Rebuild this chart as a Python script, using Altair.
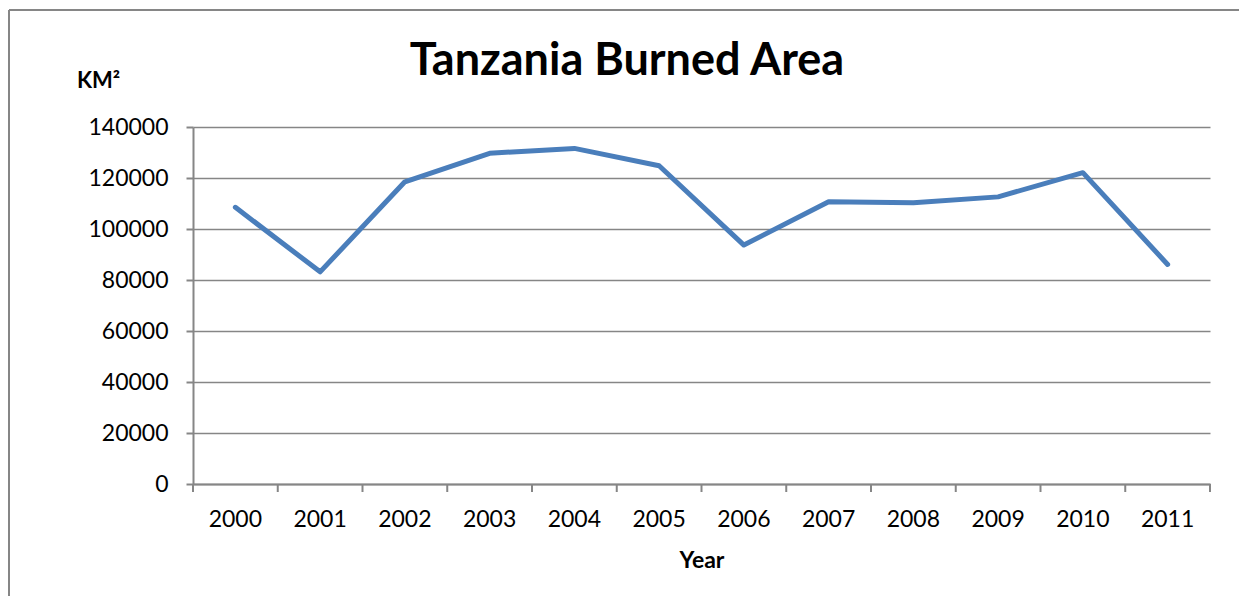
import altair as alt
import pandas as pd

years = ["2000", "2001", "2002", "2003", "2004", "2005",
         "2006", "2007", "2008", "2009", "2010", "2011"]
burned_km2 = [108500, 83200, 118500, 129700, 131600, 124800,
              93700, 110700, 110300, 112600, 122100, 86100]
y_ticks = [0, 20000, 40000, 60000, 80000, 100000, 120000, 140000]
chart_title = "Tanzania Burned Area"

df = pd.DataFrame({"Year": years, "Area": burned_km2})

W, H = 1017, 357
GRAY = "#868686"
FONT = "Lato"

x_enc = alt.X("Year:N", sort=years,
              scale=alt.Scale(paddingInner=0, paddingOuter=0),
              axis=alt.Axis(title="Year", titleFont=FONT, titleFontSize=23,
                            titleFontWeight="bold", titleColor="black",
                            titleBaseline="alphabetic", titleY=83,
                            labelFont=FONT, labelFontSize=23, labelColor="black",
                            labelAngle=0, labelBaseline="alphabetic",
                            labelPadding=42, ticks=False,
                            domainColor=GRAY, domainWidth=2, grid=False))

y_enc = alt.Y("Area:Q",
              scale=alt.Scale(domain=[0, 140000], nice=False),
              axis=alt.Axis(values=y_ticks, title="KM²", titleFont=FONT,
                            titleFontSize=22, titleFontWeight="bold",
                            titleColor="black", titleAngle=0,
                            titleAlign="center", titleBaseline="alphabetic",
                            titleX=-95, titleY=-40,
                            labelFont=FONT, labelFontSize=23, labelColor="black",
                            labelPadding=18, tickSize=7, tickColor=GRAY,
                            tickWidth=2, domainColor=GRAY, domainWidth=2,
                            grid=True, gridColor=GRAY, gridWidth=1.5,
                            format="d"))

line = alt.Chart(df).mark_line(color="#4A7EBB", strokeWidth=5,
                               strokeCap="round", strokeJoin="round").encode(
    x=x_enc, y=y_enc)

xticks = alt.Chart(df).mark_rule(color=GRAY, strokeWidth=2).encode(
    x=alt.X("Year:N", sort=years, bandPosition=0),
    y=alt.value(H), y2=alt.value(H + 8))

frame_df = pd.DataFrame({"a": [0]})
title_df = pd.DataFrame({"t": [chart_title]})

last_tick = alt.Chart(frame_df).mark_rule(color=GRAY, strokeWidth=2).encode(
    x=alt.value(W), y=alt.value(H), y2=alt.value(H + 8))
border_top = alt.Chart(frame_df).mark_rule(color=GRAY, strokeWidth=2).encode(
    x=alt.value(-184), x2=alt.value(1100), y=alt.value(-117))
border_left = alt.Chart(frame_df).mark_rule(color=GRAY, strokeWidth=2).encode(
    x=alt.value(-184), y=alt.value(-117), y2=alt.value(520))

title_mark = alt.Chart(title_df).mark_text(
    font=FONT, fontSize=45, fontWeight="bold", color="black",
    align="center", baseline="alphabetic").encode(
    text="t:N", x=alt.value(434), y=alt.value(-52))

chart = alt.layer(line, xticks, last_tick, border_top, border_left,
                  title_mark).properties(
    width=W, height=H,
    autosize=alt.AutoSizeParams(type="none"),
    padding={"left": 185, "top": 119, "right": 29, "bottom": 112},
).configure_view(stroke=None)

chart.save("out.html", embed_options={"renderer": "svg", "actions": False})
